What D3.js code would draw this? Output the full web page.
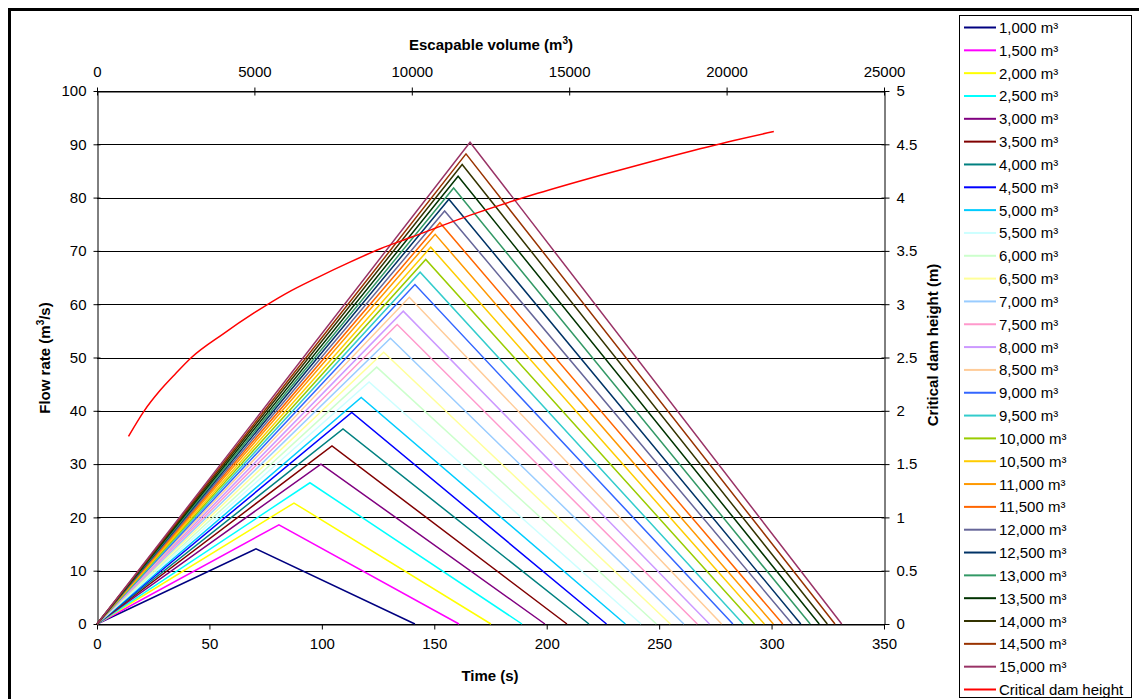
<!DOCTYPE html>
<html>
<head>
<meta charset="utf-8">
<script src="https://cdn.jsdelivr.net/npm/d3@7"></script>
<style>
  body { margin: 0; background: #fff; }
  svg { font-family: "Liberation Sans", Arial, sans-serif; display: block; }
</style>
</head>
<body>
<svg width="1139" height="699"></svg>
<script>
// hydrograph series: volume, peak (time, flow), end time
const volumes = [1000, 1500, 2000, 2500, 3000, 3500, 4000, 4500, 5000, 5500, 6000, 6500, 7000, 7500,
  8000, 8500, 9000, 9500, 10000, 10500, 11000, 11500, 12000, 12500, 13000, 13500, 14000, 14500, 15000];
const peakTime = [70.7, 80.9, 87.6, 94.7, 99.6, 104.5, 109.4, 113.3, 117.5, 121.0, 124.4, 127.5, 130.5, 133.5,
  136.2, 138.9, 141.4, 143.7, 146.2, 148.4, 150.4, 152.5, 154.6, 156.5, 158.6, 160.6, 162.4, 164.1, 165.9];
const peakFlow = [14.1, 18.6, 22.7, 26.5, 30.0, 33.4, 36.6, 39.7, 42.5, 45.4, 48.2, 51.0, 53.6, 56.2,
  58.7, 61.3, 63.7, 66.0, 68.4, 70.7, 73.1, 75.3, 77.5, 79.7, 81.8, 84.0, 86.2, 88.2, 90.4];
const endTime = [141.4, 161.0, 175.2, 189.0, 199.2, 209.0, 218.8, 226.6, 235.0, 242.0, 248.8, 255.0, 261.0, 267.0,
  272.4, 277.8, 282.8, 287.4, 292.4, 296.8, 300.8, 305.0, 309.2, 313.0, 317.2, 321.2, 324.8, 328.2, 331.2];
const seriesColors = ["#000080", "#FF00FF", "#FFFF00", "#00FFFF", "#800080", "#800000", "#008080", "#0000FF",
  "#00CCFF", "#CCFFFF", "#CCFFCC", "#FFFF99", "#99CCFF", "#FF99CC", "#CC99FF", "#FFCC99", "#3366FF",
  "#33CCCC", "#99CC00", "#FFCC00", "#FF9900", "#FF6600", "#666699", "#003366", "#339966", "#003300",
  "#333300", "#993300", "#993366"];

// critical dam height vs escapable volume (secondary axes)
const damVolume = [1000, 1500, 2000, 2500, 3000, 4000, 5000, 6000, 7000, 8000, 9000, 10000,
  12000, 14000, 16000, 18000, 20000, 21500];
const damHeight = [1.76, 2.00, 2.19, 2.35, 2.50, 2.72, 2.92, 3.10, 3.25, 3.39, 3.52, 3.63,
  3.85, 4.04, 4.21, 4.37, 4.52, 4.62];
const DAM_COLOR = "#FF0000";

const FONT = 15;

const svg = d3.select("svg");
const plot = { left: 97, right: 884, top: 91, bottom: 624 };

const x = d3.scaleLinear().domain([0, 350]).range([plot.left, plot.right]);
const y = d3.scaleLinear().domain([0, 100]).range([plot.bottom, plot.top]);
const x2 = d3.scaleLinear().domain([0, 25000]).range([plot.left, plot.right]);
const y2 = d3.scaleLinear().domain([0, 5]).range([plot.bottom, plot.top]);

svg.append("rect").attr("width", 1139).attr("height", 699).attr("fill", "#fff");

// outer chart border (runs off the right and bottom edges)
svg.append("rect")
  .attr("x", 9.5).attr("y", 9.5).attr("width", 1160).attr("height", 720)
  .attr("fill", "none").attr("stroke", "#000").attr("stroke-width", 3);

// horizontal gridlines
svg.append("g")
  .selectAll("line")
  .data(y.ticks(10))
  .enter()
  .append("line")
  .attr("x1", plot.left).attr("x2", plot.right)
  .attr("y1", (d) => Math.round(y(d)) + 0.5).attr("y2", (d) => Math.round(y(d)) + 0.5)
  .attr("stroke", "#000").attr("stroke-width", 1);

const tickFont = (g) => g.selectAll("text").attr("font-size", FONT).attr("fill", "#000")
  .attr("font-family", "Liberation Sans, Arial, sans-serif");
const clean = (g) => { g.select(".domain").attr("stroke", "#000"); g.selectAll(".tick line").attr("stroke", "#000"); };

// axes
svg.append("g").attr("transform", `translate(0,${plot.bottom + 0.5})`)
  .call(d3.axisBottom(x).tickValues(d3.range(0, 351, 50)).tickSize(5).tickSizeOuter(0).tickPadding(9))
  .call(tickFont).call(clean);

svg.append("g").attr("transform", `translate(0,${plot.top + 0.5})`)
  .call(d3.axisTop(x2).tickValues(d3.range(0, 25001, 5000)).tickSize(5).tickSizeOuter(0).tickPadding(10).tickFormat(d3.format("d")))
  .call(tickFont).call(clean)
  .call((g) => g.selectAll(".tick line").attr("y2", 4).attr("y1", -4));

svg.append("g").attr("transform", `translate(${plot.left + 0.5},0)`)
  .call(d3.axisLeft(y).tickValues(d3.range(0, 101, 10)).tickSize(4).tickSizeOuter(0).tickPadding(7))
  .call(tickFont).call(clean)
  .call((g) => g.selectAll(".tick line").attr("x2", -4).attr("x1", 3));

svg.append("g").attr("transform", `translate(${plot.right + 0.5},0)`)
  .call(d3.axisRight(y2).tickValues(d3.range(0, 5.01, 0.5)).tickSize(4).tickSizeOuter(0).tickPadding(8).tickFormat((d) => d3.format("")(+d.toFixed(1))))
  .call(tickFont).call(clean)
  .call((g) => g.selectAll(".tick line").attr("x1", -3).attr("x2", 5));

// axis titles
const title = (txt, sup, tail) => (t) => {
  t.append("tspan").text(txt);
  if (sup) {
    t.append("tspan").attr("dy", -6).attr("font-size", 10).text(sup);
    t.append("tspan").attr("dy", 6).text(tail);
  }
};
svg.append("text").attr("x", 491).attr("y", 50).attr("text-anchor", "middle")
  .attr("font-size", FONT).attr("font-weight", "bold")
  .call(title("Escapable volume (m", "3", ")"));
svg.append("text").attr("x", 490).attr("y", 681).attr("text-anchor", "middle")
  .attr("font-size", FONT).attr("font-weight", "bold").text("Time (s)");
svg.append("text").attr("transform", "translate(50,358) rotate(-90)").attr("text-anchor", "middle")
  .attr("font-size", FONT).attr("font-weight", "bold")
  .call(title("Flow rate (m", "3", "/s)"));
svg.append("text").attr("transform", "translate(938,345) rotate(-90)").attr("text-anchor", "middle")
  .attr("font-size", FONT).attr("font-weight", "bold").text("Critical dam height (m)");

// hydrographs
const series = volumes.map((v, i) => ({
  name: d3.format(",")(v) + " m³",
  color: seriesColors[i],
  pts: [[0, 0], [peakTime[i], peakFlow[i]], [endTime[i], 0]],
}));

const hydro = d3.line().x((d) => x(d[0])).y((d) => y(d[1]));
svg.append("g")
  .selectAll("path")
  .data(series)
  .enter()
  .append("path")
  .attr("d", (d) => hydro(d.pts))
  .attr("fill", "none")
  .attr("stroke", (d) => d.color)
  .attr("stroke-width", 1.5)
  .attr("stroke-linejoin", "miter");

// critical dam height curve
const damLine = d3.line().x((d) => x2(d[0])).y((d) => y2(d[1])).curve(d3.curveMonotoneX);
svg.append("path")
  .attr("d", damLine(damVolume.map((v, i) => [v, damHeight[i]])))
  .attr("fill", "none").attr("stroke", DAM_COLOR).attr("stroke-width", 1.5);

// legend
const legendItems = series.map((s) => ({ name: s.name, color: s.color }))
  .concat([{ name: "Critical dam height", color: DAM_COLOR }]);
const legend = svg.append("g");
legend.append("rect")
  .attr("x", 959.5).attr("y", 15.5).attr("width", 172).attr("height", 682)
  .attr("fill", "#fff").attr("stroke", "#000").attr("stroke-width", 1);
const ly = d3.scalePoint().domain(d3.range(legendItems.length)).range([27, 689]);
const item = legend.selectAll(".item")
  .data(legendItems)
  .enter()
  .append("g")
  .attr("class", "item")
  .attr("transform", (d, i) => `translate(0,${ly(i)})`);
item.append("line")
  .attr("x1", 964).attr("x2", 996).attr("y1", 0.5).attr("y2", 0.5)
  .attr("stroke", (d) => d.color).attr("stroke-width", 2);
item.append("text")
  .attr("x", 999).attr("y", 6)
  .attr("font-size", FONT).attr("fill", "#000")
  .text((d) => d.name);
</script>
</body>
</html>
